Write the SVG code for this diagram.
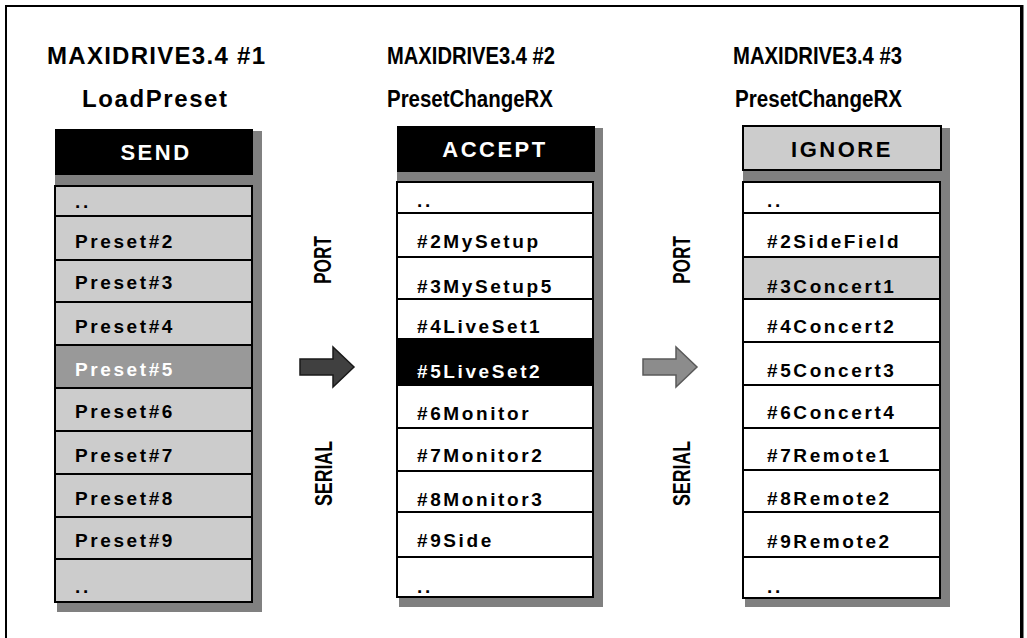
<svg xmlns="http://www.w3.org/2000/svg" width="1027" height="638" viewBox="0 0 1027 638">
<style>
text{font-family:"Liberation Sans",Arial,sans-serif;font-weight:bold;fill:#000}
.title{font-size:23px}
.t1{font-size:24px}
.row{font-size:19px;letter-spacing:2.6px}
.hdr{font-size:22px;letter-spacing:2.5px;text-anchor:middle}
.vert{font-size:24px}
.shadow{fill:#808080}
.cell{stroke:#000;stroke-width:2}
.g{fill:#cccccc}
.w{fill:#ffffff}
.k{fill:#000000}
.m{fill:#999999}
.inv{fill:#ffffff}
</style>
<rect x="0" y="0" width="1027" height="638" fill="#fff"/>
<rect x="6" y="6" width="1015" height="700" fill="none" stroke="#000" stroke-width="2"/>
<line x1="1022" y1="5" x2="1022" y2="638" stroke="#000" stroke-width="3"/>

<g id="col1">
  <g id="col1-title">
    <text class="t1" x="47" y="64" textLength="218" lengthAdjust="spacing">MAXIDRIVE3.4  #1</text>
    <text class="t1" x="82" y="107" textLength="145" lengthAdjust="spacing">LoadPreset</text>
  </g>
  <rect class="shadow" x="57" y="131" width="205" height="481"/>
  <g id="col1-header">
    <rect class="k" x="55" y="129" width="198" height="46"/>
    <rect class="shadow" x="55" y="175" width="207" height="11"/>
    <text class="hdr inv" x="156" y="160">SEND</text>
  </g>
  <g id="col1-r1"><rect class="cell g" x="55" y="186" width="197" height="30"/><text class="row" x="75" y="208">..</text></g>
  <g id="col1-r2"><rect class="cell g" x="55" y="216" width="197" height="44"/><text class="row" x="75" y="248">Preset#2</text></g>
  <g id="col1-r3"><rect class="cell g" x="55" y="260" width="197" height="42"/><text class="row" x="75" y="289">Preset#3</text></g>
  <g id="col1-r4"><rect class="cell g" x="55" y="302" width="197" height="43"/><text class="row" x="75" y="333">Preset#4</text></g>
  <g id="col1-r5"><rect class="cell m" x="55" y="345" width="197" height="43"/><text class="row inv" x="75" y="376">Preset#5</text></g>
  <g id="col1-r6"><rect class="cell g" x="55" y="388" width="197" height="43"/><text class="row" x="75" y="418">Preset#6</text></g>
  <g id="col1-r7"><rect class="cell g" x="55" y="431" width="197" height="43"/><text class="row" x="75" y="462">Preset#7</text></g>
  <g id="col1-r8"><rect class="cell g" x="55" y="474" width="197" height="43"/><text class="row" x="75" y="505">Preset#8</text></g>
  <g id="col1-r9"><rect class="cell g" x="55" y="517" width="197" height="42"/><text class="row" x="75" y="547">Preset#9</text></g>
  <g id="col1-r10"><rect class="cell g" x="55" y="559" width="197" height="43"/><text class="row" x="75" y="593">..</text></g>
</g>

<g id="col2">
  <g id="col2-title">
    <text class="title" x="387" y="64" textLength="168" lengthAdjust="spacingAndGlyphs">MAXIDRIVE3.4 #2</text>
    <text class="title" x="387" y="107" textLength="166" lengthAdjust="spacingAndGlyphs">PresetChangeRX</text>
  </g>
  <rect class="shadow" x="399" y="128" width="204" height="479"/>
  <g id="col2-header">
    <rect class="k" x="397" y="126" width="198" height="46"/>
    <rect class="shadow" x="397" y="172" width="206" height="10"/>
    <text class="hdr inv" x="495" y="157">ACCEPT</text>
  </g>
  <g id="col2-r1"><rect class="cell w" x="397" y="182" width="196" height="31"/><text class="row" x="417" y="207">..</text></g>
  <g id="col2-r2"><rect class="cell w" x="397" y="213" width="196" height="44"/><text class="row" x="417" y="248">#2MySetup</text></g>
  <g id="col2-r3"><rect class="cell w" x="397" y="257" width="196" height="42"/><text class="row" x="417" y="293">#3MySetup5</text></g>
  <g id="col2-r4"><rect class="cell w" x="397" y="299" width="196" height="40"/><text class="row" x="417" y="333">#4LiveSet1</text></g>
  <g id="col2-r5"><rect class="cell k" x="397" y="339" width="196" height="46"/><text class="row inv" x="417" y="378">#5LiveSet2</text></g>
  <g id="col2-r6"><rect class="cell w" x="397" y="385" width="196" height="43"/><text class="row" x="417" y="420">#6Monitor</text></g>
  <g id="col2-r7"><rect class="cell w" x="397" y="428" width="196" height="43"/><text class="row" x="417" y="462">#7Monitor2</text></g>
  <g id="col2-r8"><rect class="cell w" x="397" y="471" width="196" height="41"/><text class="row" x="417" y="506">#8Monitor3</text></g>
  <g id="col2-r9"><rect class="cell w" x="397" y="512" width="196" height="45"/><text class="row" x="417" y="547">#9Side</text></g>
  <g id="col2-r10"><rect class="cell w" x="397" y="557" width="196" height="40"/><text class="row" x="417" y="593">..</text></g>
</g>

<g id="col3">
  <g id="col3-title">
    <text class="title" x="733" y="64" textLength="169" lengthAdjust="spacingAndGlyphs">MAXIDRIVE3.4 #3</text>
    <text class="title" x="735" y="107" textLength="167" lengthAdjust="spacingAndGlyphs">PresetChangeRX</text>
  </g>
  <rect class="shadow" x="745" y="128" width="205" height="479"/>
  <g id="col3-header">
    <rect class="shadow" x="743" y="170" width="207" height="12"/>
    <rect class="cell g" x="743" y="126" width="198" height="44"/>
    <text class="hdr" x="842" y="157">IGNORE</text>
  </g>
  <g id="col3-r1"><rect class="cell w" x="743" y="182" width="197" height="31"/><text class="row" x="767" y="207">..</text></g>
  <g id="col3-r2"><rect class="cell w" x="743" y="213" width="197" height="44"/><text class="row" x="767" y="248">#2SideField</text></g>
  <g id="col3-r3"><rect class="cell g" x="743" y="257" width="197" height="42"/><text class="row" x="767" y="293">#3Concert1</text></g>
  <g id="col3-r4"><rect class="cell w" x="743" y="299" width="197" height="43"/><text class="row" x="767" y="333">#4Concert2</text></g>
  <g id="col3-r5"><rect class="cell w" x="743" y="342" width="197" height="43"/><text class="row" x="767" y="377">#5Concert3</text></g>
  <g id="col3-r6"><rect class="cell w" x="743" y="385" width="197" height="43"/><text class="row" x="767" y="419">#6Concert4</text></g>
  <g id="col3-r7"><rect class="cell w" x="743" y="428" width="197" height="42"/><text class="row" x="767" y="462">#7Remote1</text></g>
  <g id="col3-r8"><rect class="cell w" x="743" y="470" width="197" height="42"/><text class="row" x="767" y="505">#8Remote2</text></g>
  <g id="col3-r9"><rect class="cell w" x="743" y="512" width="197" height="45"/><text class="row" x="767" y="548">#9Remote2</text></g>
  <g id="col3-r10"><rect class="cell w" x="743" y="557" width="197" height="41"/><text class="row" x="767" y="593">..</text></g>
</g>

<g id="connectors">
  <path d="M300,359 H333 V347 L354,367 L333,387 V375 H300 Z" fill="#404040" stroke="#1a1a1a" stroke-width="1.5"/>
  <path d="M643,359 H676 V347 L697,367 L676,387 V375 H643 Z" fill="#8c8c8c" stroke="#5a5a5a" stroke-width="1.5"/>
  <text class="vert" transform="translate(331,284) rotate(-90)" textLength="48" lengthAdjust="spacingAndGlyphs">PORT</text>
  <text class="vert" transform="translate(332,506) rotate(-90)" textLength="65" lengthAdjust="spacingAndGlyphs">SERIAL</text>
  <text class="vert" transform="translate(690,284) rotate(-90)" textLength="48" lengthAdjust="spacingAndGlyphs">PORT</text>
  <text class="vert" transform="translate(690,506) rotate(-90)" textLength="65" lengthAdjust="spacingAndGlyphs">SERIAL</text>
</g>
</svg>
